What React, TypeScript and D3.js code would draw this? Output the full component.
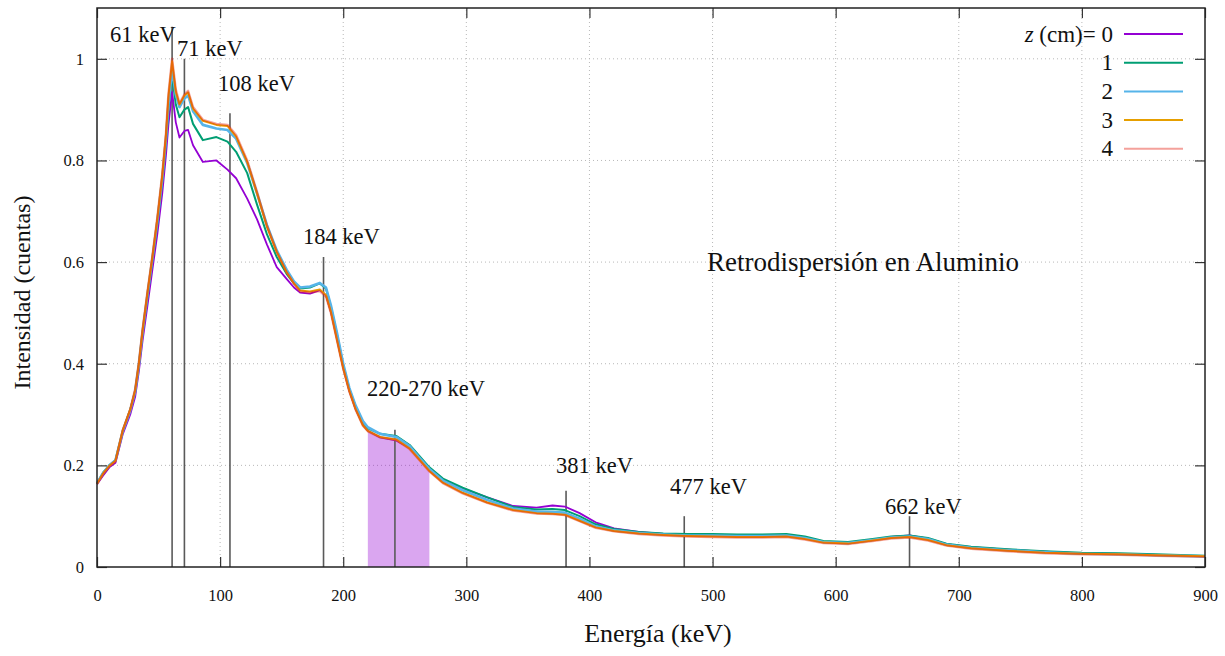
import React, { useEffect, useRef } from 'react';
import * as d3 from 'd3';

// Energy grid (keV) shared by every spectrum
const energia = [
  0, 5, 10, 15, 21, 27, 31, 34, 37, 41, 45, 49, 53, 56, 58, 61, 64, 67, 71, 74,
  78, 86, 97, 106, 113, 122, 130, 138, 146, 154, 160, 165, 173, 181, 186, 190, 195, 200, 205, 210,
  216, 220, 230, 243, 254, 262, 270, 281, 297, 317, 338, 357, 370, 380, 392, 405, 420, 440, 460, 480,
  500, 520, 540, 560, 575, 590, 610, 630, 645, 660, 675, 690, 710, 740, 770, 800, 830, 860, 900,
];

// Normalised intensity for each z (cm)
const z0 = [
  0.163, 0.18, 0.196, 0.205, 0.262, 0.3, 0.335, 0.385, 0.445, 0.515, 0.585, 0.655, 0.735, 0.81, 0.87, 0.935, 0.875, 0.845, 0.858, 0.86,
  0.83, 0.797, 0.8, 0.782, 0.765, 0.725, 0.684, 0.635, 0.59, 0.567, 0.55, 0.54, 0.538, 0.545, 0.535, 0.502, 0.448, 0.392, 0.346, 0.311,
  0.28, 0.268, 0.255, 0.249, 0.234, 0.213, 0.192, 0.172, 0.155, 0.137, 0.12, 0.117, 0.121, 0.119, 0.106, 0.088, 0.076, 0.069, 0.065, 0.063,
  0.062, 0.061, 0.061, 0.062, 0.057, 0.049, 0.047, 0.053, 0.059, 0.062, 0.056, 0.045, 0.039, 0.034, 0.03, 0.027, 0.026, 0.024, 0.021,
];
const z1 = [
  0.165, 0.186, 0.2, 0.21, 0.268, 0.31, 0.345, 0.397, 0.46, 0.533, 0.603, 0.675, 0.758, 0.835, 0.9, 0.967, 0.91, 0.885, 0.9, 0.905,
  0.872, 0.84, 0.846, 0.837, 0.817, 0.775, 0.713, 0.655, 0.61, 0.577, 0.558, 0.548, 0.55, 0.558, 0.548, 0.512, 0.457, 0.397, 0.35, 0.316,
  0.285, 0.273, 0.262, 0.258, 0.24, 0.218, 0.196, 0.174, 0.156, 0.137, 0.118, 0.113, 0.114, 0.112, 0.1, 0.084, 0.075, 0.069, 0.066, 0.065,
  0.065, 0.064, 0.064, 0.065, 0.06, 0.051, 0.049, 0.055, 0.06, 0.062, 0.057, 0.046, 0.04, 0.035, 0.031, 0.028, 0.027, 0.025, 0.022,
];
const z2 = [
  0.165, 0.185, 0.2, 0.21, 0.268, 0.308, 0.346, 0.398, 0.462, 0.536, 0.607, 0.68, 0.764, 0.842, 0.91, 0.978, 0.93, 0.905, 0.922, 0.928,
  0.897, 0.87, 0.863, 0.86, 0.843, 0.795, 0.735, 0.673, 0.623, 0.585, 0.562, 0.55, 0.552, 0.559, 0.55, 0.515, 0.46, 0.4, 0.352, 0.318,
  0.287, 0.275, 0.262, 0.256, 0.238, 0.215, 0.193, 0.17, 0.151, 0.132, 0.115, 0.109, 0.108, 0.107, 0.095, 0.08, 0.072, 0.067, 0.064, 0.062,
  0.062, 0.061, 0.061, 0.062, 0.057, 0.049, 0.047, 0.053, 0.058, 0.06, 0.055, 0.044, 0.038, 0.033, 0.029, 0.026, 0.025, 0.023, 0.021,
];
const z3 = [
  0.164, 0.184, 0.199, 0.209, 0.27, 0.31, 0.348, 0.4, 0.465, 0.54, 0.61, 0.685, 0.77, 0.85, 0.925, 0.995, 0.935, 0.91, 0.928, 0.934,
  0.902, 0.878, 0.87, 0.868, 0.847, 0.797, 0.735, 0.67, 0.62, 0.58, 0.558, 0.544, 0.542, 0.546, 0.535, 0.502, 0.446, 0.391, 0.346, 0.311,
  0.279, 0.268, 0.256, 0.251, 0.233, 0.211, 0.189, 0.166, 0.146, 0.127, 0.112, 0.106, 0.105, 0.103, 0.091, 0.078, 0.071, 0.066, 0.063, 0.061,
  0.06, 0.059, 0.059, 0.06, 0.055, 0.048, 0.046, 0.052, 0.057, 0.059, 0.053, 0.043, 0.037, 0.032, 0.028, 0.026, 0.025, 0.023, 0.021,
];
const z4 = [
  0.163, 0.183, 0.198, 0.208, 0.27, 0.31, 0.35, 0.402, 0.467, 0.542, 0.612, 0.688, 0.773, 0.853, 0.93, 1.0, 0.94, 0.912, 0.93, 0.937,
  0.905, 0.88, 0.872, 0.87, 0.85, 0.8, 0.738, 0.672, 0.62, 0.58, 0.557, 0.542, 0.54, 0.543, 0.532, 0.5, 0.445, 0.39, 0.345, 0.31,
  0.278, 0.267, 0.255, 0.25, 0.232, 0.21, 0.188, 0.165, 0.145, 0.126, 0.111, 0.105, 0.104, 0.102, 0.09, 0.077, 0.07, 0.065, 0.062, 0.06,
  0.059, 0.058, 0.058, 0.059, 0.054, 0.047, 0.045, 0.051, 0.056, 0.058, 0.052, 0.042, 0.036, 0.031, 0.027, 0.025, 0.024, 0.022, 0.02,
];

const series = [z0, z1, z2, z3, z4];
const nombres = ['0', '1', '2', '3', '4'];
const colores = ['#9400d3', '#009e73', '#56b4e9', '#e69f00', '#e51e10'];
const anchos = [1.8, 2, 2.6, 2, 2.4];
const opacidades = [1, 1, 1, 1, 0.42];

// Peak markers: energy, line height, label text and label anchor (data units)
const picosE = [61, 71, 108, 184, 242, 381, 477, 660];
const picosAltura = [1.063, 1.0, 0.893, 0.61, 0.27, 0.15, 0.1, 0.1];
const etiquetas = ['61 keV', '71 keV', '108 keV', '184 keV', '220-270 keV', '381 keV', '477 keV', '662 keV'];
const etiquetaE = [10.6, 65, 98.3, 167.3, 219.3, 372.9, 465.5, 640];
const etiquetaY = [1.033, 1.006, 0.937, 0.636, 0.337, 0.185, 0.144, 0.104];
const banda = [220, 270];

const xTicks = [0, 100, 200, 300, 400, 500, 600, 700, 800, 900];
const yTicks = [0, 0.2, 0.4, 0.6, 0.8, 1];

const FONT = "'Liberation Serif', 'Times New Roman', serif";

const App: React.FC = () => {
  const containerRef = useRef<HTMLDivElement | null>(null);

  useEffect(() => {
    if (!containerRef.current) return;
    containerRef.current.innerHTML = '';

    const width = 1225;
    const height = 656;
    const margin = { top: 8, right: 20, bottom: 89, left: 97 };

    const x = d3.scaleLinear().domain([0, 900]).range([margin.left, width - margin.right]);
    const y = d3.scaleLinear().domain([0, 1.1]).range([height - margin.bottom, margin.top]);

    const svg = d3
      .select(containerRef.current)
      .append('svg')
      .attr('width', width)
      .attr('height', height)
      .style('position', 'absolute')
      .style('left', '0px')
      .style('top', '0px')
      .style('background', '#fff')
      .attr('font-family', FONT);

    // dotted grid
    const grid = svg.append('g').attr('stroke', '#b8b8b8').attr('stroke-width', 1).attr('stroke-dasharray', '1,3');
    grid
      .selectAll('line.vx')
      .data(xTicks.slice(1, -1))
      .join('line')
      .attr('x1', (d) => x(d))
      .attr('x2', (d) => x(d))
      .attr('y1', y(0))
      .attr('y2', y(1.1));
    grid
      .selectAll('line.hy')
      .data(yTicks.slice(1))
      .join('line')
      .attr('x1', x(0))
      .attr('x2', x(900))
      .attr('y1', (d) => y(d))
      .attr('y2', (d) => y(d));

    // shaded 220-270 keV window under the z=0 spectrum
    const idx = energia.map((_, i) => i).filter((i) => energia[i] >= banda[0] && energia[i] <= banda[1]);
    const area = d3
      .area<number>()
      .x((i) => x(energia[i]))
      .y0(y(0))
      .y1((i) => y(z0[i]));
    svg.append('path').datum(idx).attr('d', area).attr('fill', '#9400d3').attr('fill-opacity', 0.35);

    // peak marker lines
    svg
      .append('g')
      .selectAll('line')
      .data(picosE)
      .join('line')
      .attr('x1', (d) => x(d))
      .attr('x2', (d) => x(d))
      .attr('y1', y(0))
      .attr('y2', (_, i) => y(picosAltura[i]))
      .attr('stroke', '#5a5a5a')
      .attr('stroke-width', 1.6);

    // spectra
    const line = d3
      .line<number>()
      .x((_, i) => x(energia[i]))
      .y((d) => y(d));
    series.forEach((s, k) => {
      svg
        .append('path')
        .datum(s)
        .attr('d', line)
        .attr('fill', 'none')
        .attr('stroke', colores[k])
        .attr('stroke-width', anchos[k])
        .attr('stroke-opacity', opacidades[k])
        .attr('stroke-linejoin', 'round');
    });

    // axes: inward ticks on all four sides
    const styleAxis = (g: d3.Selection<SVGGElement, unknown, null, undefined>, size: number) => {
      g.select('.domain').remove();
      g.attr('font-family', FONT).attr('font-size', size).attr('color', '#333');
      g.selectAll('.tick line').attr('stroke-width', 1.2);
      g.selectAll('.tick text').attr('fill', '#111');
    };

    svg
      .append('g')
      .attr('transform', `translate(0,${y(0)})`)
      .call(d3.axisBottom(x).tickValues(xTicks).tickSize(-10).tickPadding(22).tickFormat((d) => String(d)))
      .call((g) => styleAxis(g, 16.5));
    svg
      .append('g')
      .attr('transform', `translate(0,${y(1.1)})`)
      .call(d3.axisTop(x).tickValues(xTicks).tickSize(-10).tickFormat(() => ''))
      .call((g) => styleAxis(g, 16.5));
    svg
      .append('g')
      .attr('transform', `translate(${x(0)},0)`)
      .call(d3.axisLeft(y).tickValues(yTicks).tickSize(-10).tickPadding(13).tickFormat((d) => String(d)))
      .call((g) => styleAxis(g, 16.5));
    svg
      .append('g')
      .attr('transform', `translate(${x(900)},0)`)
      .call(d3.axisRight(y).tickValues(yTicks).tickSize(-10).tickFormat(() => ''))
      .call((g) => styleAxis(g, 16.5));

    // border
    svg
      .append('rect')
      .attr('x', x(0))
      .attr('y', y(1.1))
      .attr('width', x(900) - x(0))
      .attr('height', y(0) - y(1.1))
      .attr('fill', 'none')
      .attr('stroke', '#222')
      .attr('stroke-width', 1.5);

    // peak labels
    svg
      .append('g')
      .selectAll('text')
      .data(etiquetas)
      .join('text')
      .attr('x', (_, i) => x(etiquetaE[i]))
      .attr('y', (_, i) => y(etiquetaY[i]))
      .attr('font-size', 22.5)
      .attr('fill', '#111')
      .text((d) => d);

    svg
      .append('text')
      .attr('x', 707)
      .attr('y', 271)
      .attr('font-size', 27)
      .attr('fill', '#111')
      .text('Retrodispersión en Aluminio');

    // axis titles
    svg
      .append('text')
      .attr('x', (x(0) + x(900)) / 2 + 7)
      .attr('y', 642)
      .attr('text-anchor', 'middle')
      .attr('font-size', 26)
      .attr('fill', '#111')
      .text('Energía (keV)');
    svg
      .append('text')
      .attr('transform', `translate(30,${y(0.54)}) rotate(-90)`)
      .attr('text-anchor', 'middle')
      .attr('font-size', 24)
      .attr('fill', '#111')
      .text('Intensidad (cuentas)');

    // legend
    const legend = svg.append('g');
    nombres.forEach((n, k) => {
      const ly = 34 + k * 28.7;
      legend
        .append('line')
        .attr('x1', 1124)
        .attr('x2', 1183)
        .attr('y1', ly)
        .attr('y2', ly)
        .attr('stroke', colores[k])
        .attr('stroke-width', 2)
        .attr('stroke-opacity', opacidades[k]);
      const t = legend
        .append('text')
        .attr('x', 1113)
        .attr('y', ly + 7.5)
        .attr('text-anchor', 'end')
        .attr('font-size', 23)
        .attr('fill', '#111');
      if (k === 0) {
        t.append('tspan').attr('font-style', 'italic').text('z');
        t.append('tspan').text(' (cm)= ' + n);
      } else {
        t.text(n);
      }
    });
  }, []);

  return <div ref={containerRef} id="retrodispersion-chart" />;
};

export default App;
